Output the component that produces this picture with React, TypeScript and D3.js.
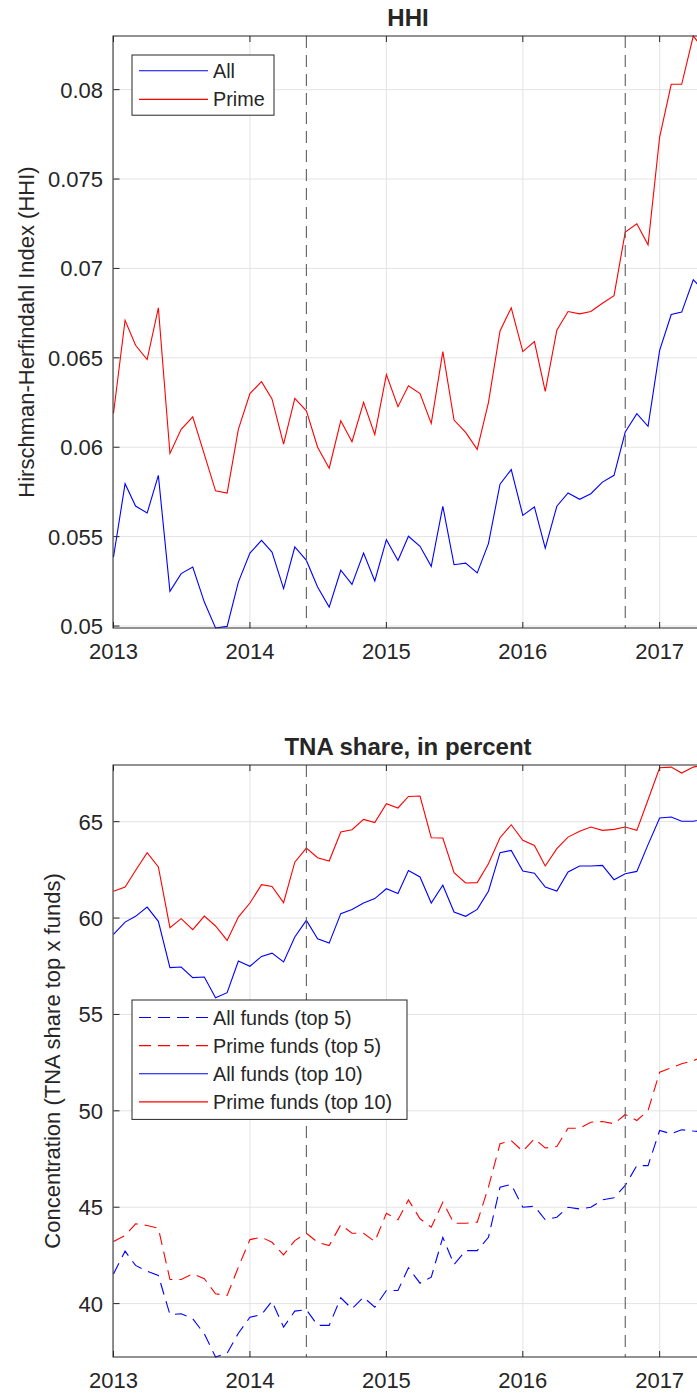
import React from "react";
import * as d3 from "d3";

// ---------- data ----------
const startDate = new Date(2013, 0, 1);
const endDate = new Date(2017, 4, 1);
const months = d3.timeMonth.range(startDate, new Date(2017, 5, 1));
const yearTicks = [2013, 2014, 2015, 2016, 2017];
const eventDates = [new Date(2014, 5, 1), new Date(2016, 9, 1)];

const hhiAll = [
  0.05386, 0.05796, 0.05671, 0.05632, 0.05843, 0.05194, 0.05293, 0.0533, 0.05134, 0.04989, 0.04998, 0.05246, 0.05408,
  0.05479, 0.05414, 0.05209, 0.05442, 0.05367, 0.05218, 0.05106, 0.05312, 0.05233, 0.05408, 0.05252, 0.05483, 0.05367,
  0.05502, 0.05446, 0.05334, 0.0567, 0.05343, 0.05352, 0.05297, 0.05461, 0.05793, 0.05875, 0.05619, 0.05666, 0.05436,
  0.0567, 0.05744, 0.05709, 0.0574, 0.05805, 0.05843, 0.06085, 0.06188, 0.06117, 0.06542, 0.06742, 0.06756, 0.06937, 0.0687,
];
const hhiPrime = [
  0.0619, 0.0671, 0.0657, 0.0649, 0.0678, 0.05965, 0.061, 0.0617, 0.0596, 0.05756, 0.05744, 0.061, 0.063,
  0.06367, 0.0627, 0.06018, 0.06273, 0.06204, 0.06, 0.05883, 0.06148, 0.06031, 0.06251, 0.0607, 0.06406, 0.06227,
  0.06344, 0.063, 0.06133, 0.06535, 0.06152, 0.06083, 0.05988, 0.0625, 0.0665, 0.0678, 0.06535, 0.06591, 0.06312,
  0.06655, 0.06759, 0.06746, 0.06759, 0.06805, 0.06848, 0.07203, 0.0725, 0.07132, 0.07735, 0.0803, 0.0803, 0.083, 0.0822,
];
const hhiTicks = [0.05, 0.055, 0.06, 0.065, 0.07, 0.075, 0.08];
const hhiTickLabels = ["0.05", "0.055", "0.06", "0.065", "0.07", "0.075", "0.08"];

const allTop5 = [
  41.54, 42.72, 41.98, 41.68, 41.46, 39.43, 39.47, 39.21, 38.43, 37.23, 37.43, 38.46, 39.29,
  39.43, 40.12, 38.78, 39.61, 39.68, 38.87, 38.87, 40.3, 39.73, 40.33, 39.81, 40.68, 40.68,
  41.86, 41.06, 41.37, 43.44, 42.03, 42.75, 42.75, 43.44, 46.04, 46.18, 45.0, 45.05, 44.35,
  44.48, 45.0, 44.91, 45.0, 45.38, 45.49, 46.13, 47.16, 47.16, 48.98, 48.81, 49.02, 48.95, 48.9,
];
const primeTop5 = [
  43.22, 43.53, 44.14, 44.05, 43.91, 41.25, 41.25, 41.54, 41.29, 40.51, 40.42, 41.89, 43.32,
  43.44, 43.18, 42.53, 43.27, 43.65, 43.18, 43.01, 44.09, 43.65, 43.65, 43.22, 44.69, 44.35,
  45.38, 44.4, 43.96, 45.26, 44.17, 44.17, 44.22, 46.04, 48.29, 48.46, 47.9, 48.55, 48.07,
  48.15, 49.1, 49.1, 49.41, 49.45, 49.33, 49.81, 49.5, 50.02, 52.0, 52.23, 52.44, 52.6, 52.85,
];
const allTop10 = [
  59.15, 59.79, 60.09, 60.57, 59.83, 57.43, 57.46, 56.91, 56.94, 55.87, 56.13, 57.77, 57.5,
  58.01, 58.18, 57.72, 59.02, 59.88, 58.93, 58.7, 60.23, 60.44, 60.78, 61.01, 61.52, 61.27,
  62.47, 62.13, 60.78, 61.7, 60.31, 60.09, 60.45, 61.39, 63.39, 63.51, 62.44, 62.33, 61.61,
  61.4, 62.39, 62.7, 62.7, 62.73, 61.99, 62.3, 62.42, 63.81, 65.19, 65.24, 65.02, 65.02, 65.15,
];
const primeTop10 = [
  61.39, 61.61, 62.47, 63.39, 62.65, 59.5, 59.97, 59.4, 60.1, 59.59, 58.84, 60.05, 60.78,
  61.73, 61.64, 60.8, 62.9, 63.63, 63.13, 62.96, 64.46, 64.58, 65.12, 64.95, 65.93, 65.71,
  66.31, 66.33, 64.17, 64.15, 62.35, 61.82, 61.84, 62.82, 64.17, 64.84, 64.03, 63.77, 62.7,
  63.6, 64.2, 64.5, 64.72, 64.55, 64.6, 64.72, 64.55, 66.14, 67.8, 67.83, 67.52, 67.83, 67.94,
];
const tnaTicks = [40, 45, 50, 55, 60, 65];
const tnaTickLabels = ["40", "45", "50", "55", "60", "65"];

// ---------- style ----------
const FONT = "'Liberation Sans', Arial, Helvetica, sans-serif";
const TXT = "#262626";
const GRID = "#e3e3e3";
const BLUE = "#0000ff";
const RED = "#ff0000";

type Series = { values: number[]; color: string; dash?: string; label: string };

function Panel(props: {
  top: number;
  bottom: number;
  title: string;
  ylabel: string;
  ylabelX: number;
  ticks: number[];
  tickLabels: string[];
  series: Series[];
  legend: { x: number; y: number; w: number; rowH: number; pad: number };
}) {
  const { top, bottom, title, ylabel, ylabelX, ticks, tickLabels, series, legend } = props;
  const left = 113.5;
  const x = d3.scaleTime().domain([startDate, endDate]).range([left, 704.5]);
  const all = series.flatMap((s) => s.values);
  const [mn, mx] = d3.extent(all) as [number, number];
  const y = d3.scaleLinear().domain([mn, mx]).range([bottom, top]);
  const line = d3
    .line<number>()
    .x((_, i) => x(months[i]))
    .y((d) => y(d));
  const right = x(endDate);
  const yearX = yearTicks.map((yr) => x(new Date(yr, 0, 1)));
  const legH = legend.pad * 2 + series.length * legend.rowH;
  return (
    <g>
      {/* grid */}
      {yearX.map((gx, i) => (
        <line key={"gx" + i} x1={gx} x2={gx} y1={top} y2={bottom} stroke={GRID} strokeWidth={1} />
      ))}
      {ticks.map((t, i) => (
        <line key={"gy" + i} x1={left} x2={right} y1={y(t)} y2={y(t)} stroke={GRID} strokeWidth={1} />
      ))}
      {/* data */}
      {series.map((s, i) => (
        <path
          key={"s" + i}
          d={line(s.values) || ""}
          fill="none"
          stroke={s.color}
          strokeWidth={1.1}
          strokeDasharray={s.dash}
        />
      ))}
      {/* event lines */}
      {eventDates.map((d, i) => (
        <line
          key={"ev" + i}
          x1={x(d)}
          x2={x(d)}
          y1={top}
          y2={bottom}
          stroke="#5f5f5f"
          strokeWidth={1.1}
          strokeDasharray="12,7"
        />
      ))}
      {/* axes box */}
      <rect x={left - 0.5} y={top} width={right - left + 0.5} height={bottom - top} fill="none" stroke={TXT} strokeWidth={1} />
      {/* ticks */}
      {yearX.map((gx, i) => (
        <g key={"xt" + i}>
          <line x1={gx} x2={gx} y1={bottom} y2={bottom - 6} stroke={TXT} />
          <line x1={gx} x2={gx} y1={top} y2={top + 6} stroke={TXT} />
          <text x={gx} y={bottom + 31} fontSize={22} fontFamily={FONT} fill={TXT} textAnchor="middle">
            {yearTicks[i]}
          </text>
        </g>
      ))}
      {ticks.map((t, i) => (
        <g key={"yt" + i}>
          <line x1={left} x2={left + 6} y1={y(t)} y2={y(t)} stroke={TXT} />
          <text
            x={103}
            y={y(t) + 8}
            fontSize={22}
            fontFamily={FONT}
            fill={TXT}
            textAnchor="end"
          >
            {tickLabels[i]}
          </text>
        </g>
      ))}
      {/* title */}
      <text x={408} y={top - 10} fontSize={24} fontWeight="bold" fontFamily={FONT} fill={TXT} textAnchor="middle">
        {title}
      </text>
      {/* y label */}
      <text
        transform={`translate(${ylabelX},${(top + bottom) / 2}) rotate(-90)`}
        fontSize={22}
        fontFamily={FONT}
        fill={TXT}
        textAnchor="middle"
      >
        {ylabel}
      </text>
      {/* legend */}
      <rect x={legend.x} y={legend.y} width={legend.w} height={legH} fill="#ffffff" stroke={TXT} strokeWidth={1} />
      {series.map((s, i) => {
        const cy = legend.y + legend.pad + legend.rowH * (i + 0.5);
        return (
          <g key={"lg" + i}>
            <line x1={legend.x + 7} x2={legend.x + 76} y1={cy} y2={cy} stroke={s.color} strokeWidth={1.1} strokeDasharray={s.dash} />
            <text x={legend.x + 81} y={cy + 7} fontSize={19.8} fontFamily={FONT} fill={TXT}>
              {s.label}
            </text>
          </g>
        );
      })}
    </g>
  );
}

export default function App() {
  return (
    <svg
      width={697}
      height={1396}
      style={{ position: "absolute", left: 0, top: 0, background: "#ffffff" }}
    >
      <rect x={0} y={0} width={697} height={1396} fill="#ffffff" />
      <Panel
        top={36}
        bottom={628}
        title="HHI"
        ylabel="Hirschman-Herfindahl Index (HHI)"
        ylabelX={34}
        ticks={hhiTicks}
        tickLabels={hhiTickLabels}
        series={[
          { values: hhiAll, color: BLUE, label: "All" },
          { values: hhiPrime, color: RED, label: "Prime" },
        ]}
        legend={{ x: 132, y: 55, w: 142, rowH: 28.6, pad: 1.5 }}
      />
      <Panel
        top={765}
        bottom={1357}
        title="TNA share, in percent"
        ylabel="Concentration (TNA share top x funds)"
        ylabelX={60}
        ticks={tnaTicks}
        tickLabels={tnaTickLabels}
        series={[
          { values: allTop5, color: BLUE, dash: "12,7", label: "All funds (top 5)" },
          { values: primeTop5, color: RED, dash: "12,7", label: "Prime funds (top 5)" },
          { values: allTop10, color: BLUE, label: "All funds (top 10)" },
          { values: primeTop10, color: RED, label: "Prime funds (top 10)" },
        ]}
        legend={{ x: 132, y: 1000, w: 275, rowH: 28.1, pad: 3.5 }}
      />
    </svg>
  );
}
